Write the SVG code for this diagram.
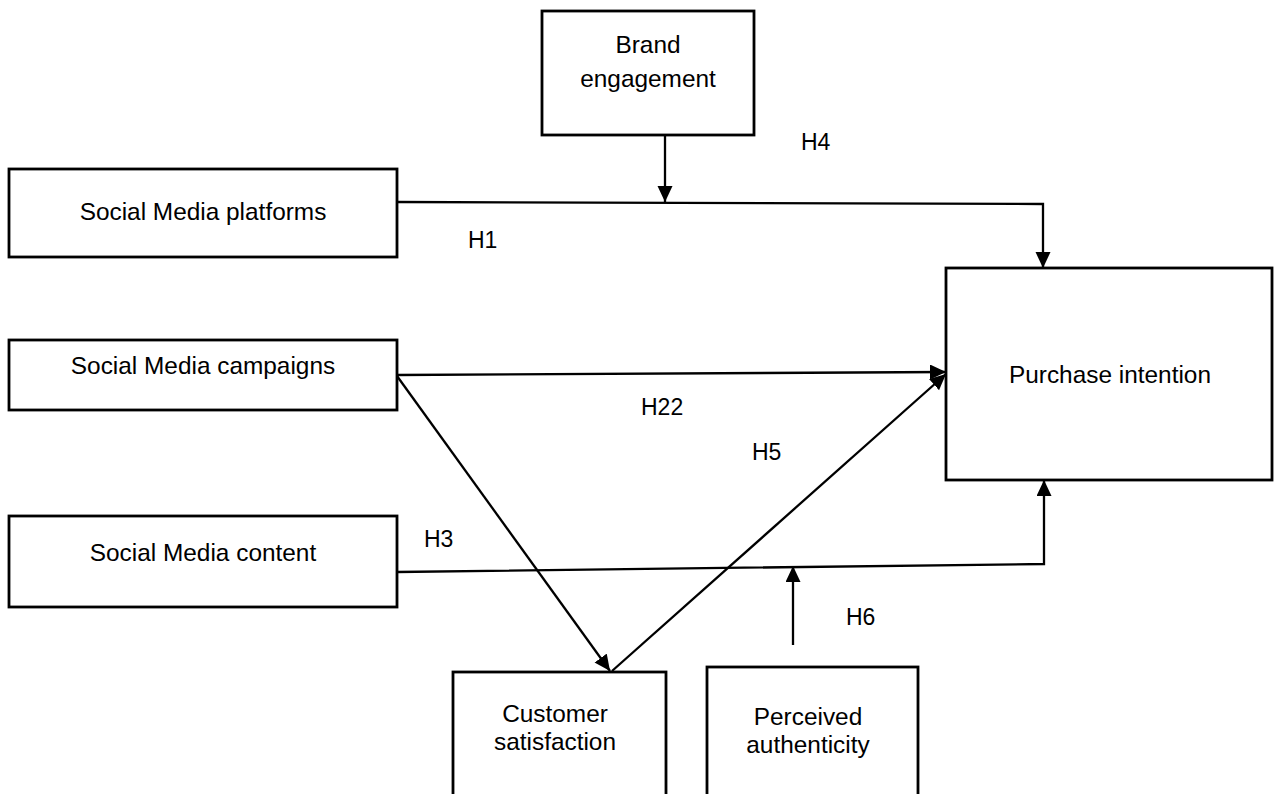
<svg xmlns="http://www.w3.org/2000/svg" width="1274" height="794" viewBox="0 0 1274 794">
<style>
.box{fill:#fff;stroke:#000;stroke-width:2.8}
.lbl{font-family:"Liberation Sans",Arial,sans-serif;font-size:24.4px;fill:#000;text-anchor:middle}
.h{font-family:"Liberation Sans",Arial,sans-serif;font-size:23px;fill:#000}
.c{fill:none;stroke:#000;stroke-width:2.3}
</style>
<defs>
<marker id="ah" markerUnits="userSpaceOnUse" markerWidth="17" markerHeight="17" refX="16" refY="7.5" orient="auto">
<path d="M0,0 L16,7.5 L0,15 z" fill="#000"/>
</marker>
</defs>
<rect width="1274" height="794" fill="#fff"/>
<g id="connectors">
<path class="c" d="M397,202 L1043,204 L1043,268" marker-end="url(#ah)"/>
<path class="c" d="M665,135 L665,202" marker-end="url(#ah)"/>
<path class="c" d="M397,375 L946,372" marker-end="url(#ah)"/>
<path class="c" d="M397,376 L610,671" marker-end="url(#ah)"/>
<path class="c" d="M612,671 L946,374" marker-end="url(#ah)"/>
<path class="c" d="M397,572 L1044,564 L1044,480" marker-end="url(#ah)"/>
<path class="c" d="M793,645 L793,566" marker-end="url(#ah)"/>
</g>
<g id="brand-engagement">
<rect class="box" x="542" y="11" width="212" height="124"/>
<text class="lbl" x="648" y="53">Brand</text>
<text class="lbl" x="648" y="87">engagement</text>
</g>
<g id="sm-platforms">
<rect class="box" x="9" y="169" width="388" height="88"/>
<text class="lbl" x="203" y="220">Social Media platforms</text>
</g>
<g id="sm-campaigns">
<rect class="box" x="9" y="340" width="388" height="70"/>
<text class="lbl" x="203" y="374">Social Media campaigns</text>
</g>
<g id="sm-content">
<rect class="box" x="9" y="516" width="388" height="91"/>
<text class="lbl" x="203" y="561">Social Media content</text>
</g>
<g id="purchase-intention">
<rect class="box" x="946" y="268" width="326" height="212"/>
<text class="lbl" x="1110" y="383">Purchase intention</text>
</g>
<g id="customer-satisfaction">
<rect class="box" x="453" y="672" width="213" height="140"/>
<text class="lbl" x="555" y="722">Customer</text>
<text class="lbl" x="555" y="750">satisfaction</text>
</g>
<g id="perceived-authenticity">
<rect class="box" x="707" y="667" width="211" height="145"/>
<text class="lbl" x="808" y="725">Perceived</text>
<text class="lbl" x="808" y="753">authenticity</text>
</g>
<g id="labels">
<text class="h" x="801" y="150">H4</text>
<text class="h" x="468" y="248">H1</text>
<text class="h" x="641" y="415">H22</text>
<text class="h" x="752" y="460">H5</text>
<text class="h" x="424" y="547">H3</text>
<text class="h" x="846" y="625">H6</text>
</g>
</svg>
